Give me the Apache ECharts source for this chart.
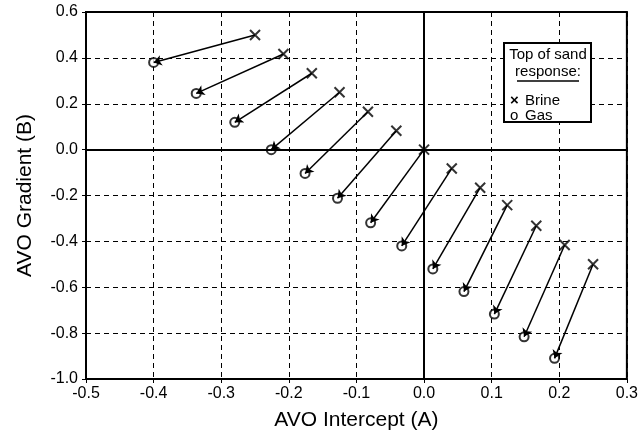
<!DOCTYPE html>
<html>
<head>
<meta charset="utf-8">
<script src="https://cdn.jsdelivr.net/npm/echarts@6/dist/echarts.min.js"></script>
<style>
  html, body { margin: 0; padding: 0; background: #fff; }
  #chart { width: 641px; height: 439px; }
</style>
</head>
<body>
<div id="chart"></div>
<script>
// Top-of-sand AVO response: brine sand (x) moving to gas sand (o)
const brineA = [-0.25, -0.208, -0.166, -0.125, -0.083, -0.041, 0.0, 0.041, 0.083, 0.123, 0.166, 0.208, 0.25];
const brineB = [0.5, 0.417, 0.333, 0.25, 0.165, 0.082, 0.0, -0.082, -0.166, -0.242, -0.332, -0.416, -0.5];
const gasA = [-0.40, -0.337, -0.28, -0.226, -0.176, -0.128, -0.079, -0.033, 0.013, 0.059, 0.104, 0.148, 0.193];
const gasB = [0.38, 0.245, 0.119, 0.0, -0.104, -0.212, -0.319, -0.42, -0.52, -0.619, -0.717, -0.816, -0.91];
const xTicks = { min: -0.5, max: 0.3, step: 0.1 };
const yTicks = { min: -1.0, max: 0.6, step: 0.2 };

const FONT = '"Liberation Sans", Arial, Helvetica, sans-serif';
const chart = echarts.init(document.getElementById('chart'), null, { renderer: 'canvas' });

const brinePts = brineA.map((a, i) => [a, brineB[i]]);
const gasPts = gasA.map((a, i) => [a, gasB[i]]);
const arrows = brinePts.map((p, i) => ({ coords: [p, gasPts[i]] }));

const dashed = { show: true, lineStyle: { color: '#000', width: 1, type: [5, 4] } };

chart.setOption({
  animation: false,
  backgroundColor: '#fff',
  grid: { left: 86, right: 13, top: 12, bottom: 60, show: true, borderColor: '#000', borderWidth: 2, backgroundColor: 'transparent' },
  xAxis: {
    type: 'value', min: xTicks.min, max: xTicks.max, interval: xTicks.step,
    name: 'AVO Intercept (A)', nameLocation: 'middle', nameGap: 31,
    nameTextStyle: { fontFamily: FONT, fontSize: 21, color: '#000' },
    axisLine: { show: true, onZero: false, lineStyle: { color: '#000', width: 2 } },
    axisTick: { show: true, inside: false, length: 4, lineStyle: { color: '#000' } },
    axisLabel: { fontFamily: FONT, fontSize: 16, color: '#000', margin: 7, formatter: v => v.toFixed(1) },
    splitLine: dashed
  },
  yAxis: {
    type: 'value', min: yTicks.min, max: yTicks.max, interval: yTicks.step,
    name: 'AVO Gradient (B)', nameLocation: 'middle', nameGap: 50, nameRotate: 90,
    nameTextStyle: { fontFamily: FONT, fontSize: 21, color: '#000' },
    axisLine: { show: true, onZero: false, lineStyle: { color: '#000', width: 2 } },
    axisTick: { show: true, inside: false, length: 4, lineStyle: { color: '#000' } },
    axisLabel: { fontFamily: FONT, fontSize: 16, color: '#000', margin: 8, formatter: v => v.toFixed(1) },
    splitLine: dashed
  },
  series: [
    {
      name: 'Gas', type: 'scatter', data: gasPts, symbol: 'emptyCircle', symbolSize: 9, z: 3,
      itemStyle: { color: '#000', borderColor: '#000', borderWidth: 1.7 },
      markLine: {
        silent: true, symbol: ['none', 'none'], label: { show: false },
        lineStyle: { color: '#000', width: 2, type: 'solid' },
        data: [{ xAxis: 0 }, { yAxis: 0 }]
      }
    },
    {
      name: 'Brine', type: 'scatter', data: brinePts, z: 4,
      symbol: 'path://M0,0L10,10M10,0L0,10', symbolSize: 10,
      itemStyle: { color: 'transparent', borderColor: '#000', borderWidth: 2 }
    },
    {
      name: 'Shift', type: 'lines', coordinateSystem: 'cartesian2d', data: arrows, z: 5,
      symbol: ['none', 'arrow'], symbolSize: [0, 8],
      lineStyle: { color: '#000', width: 1.5, opacity: 1 }
    }
  ],
  graphic: [
    {
      type: 'group', left: 503, top: 42, z: 100,
      children: [
        { type: 'rect', z: 100, shape: { x: 0, y: 0, width: 87, height: 79 }, style: { fill: '#fff', stroke: '#000', lineWidth: 2 } },
        { type: 'text', z: 101, style: { x: 44, y: 12, text: 'Top of sand', font: '15px ' + FONT, fill: '#000', align: 'center', verticalAlign: 'middle' } },
        { type: 'text', z: 101, style: { x: 44, y: 29, text: 'response:', font: '15px ' + FONT, fill: '#000', align: 'center', verticalAlign: 'middle' } },
        { type: 'line', z: 101, shape: { x1: 13, y1: 38, x2: 75, y2: 38 }, style: { stroke: '#000', lineWidth: 1.3 } },
        { type: 'text', z: 101, style: { x: 6, y: 58, text: '×', font: 'bold 15px ' + FONT, fill: '#000', verticalAlign: 'middle' } },
        { type: 'text', z: 101, style: { x: 21, y: 58, text: 'Brine', font: '15px ' + FONT, fill: '#000', verticalAlign: 'middle' } },
        { type: 'text', z: 101, style: { x: 6, y: 73, text: 'o', font: '15px ' + FONT, fill: '#000', verticalAlign: 'middle' } },
        { type: 'text', z: 101, style: { x: 21, y: 73, text: 'Gas', font: '15px ' + FONT, fill: '#000', verticalAlign: 'middle' } }
      ]
    }
  ]
});
</script>
</body>
</html>
